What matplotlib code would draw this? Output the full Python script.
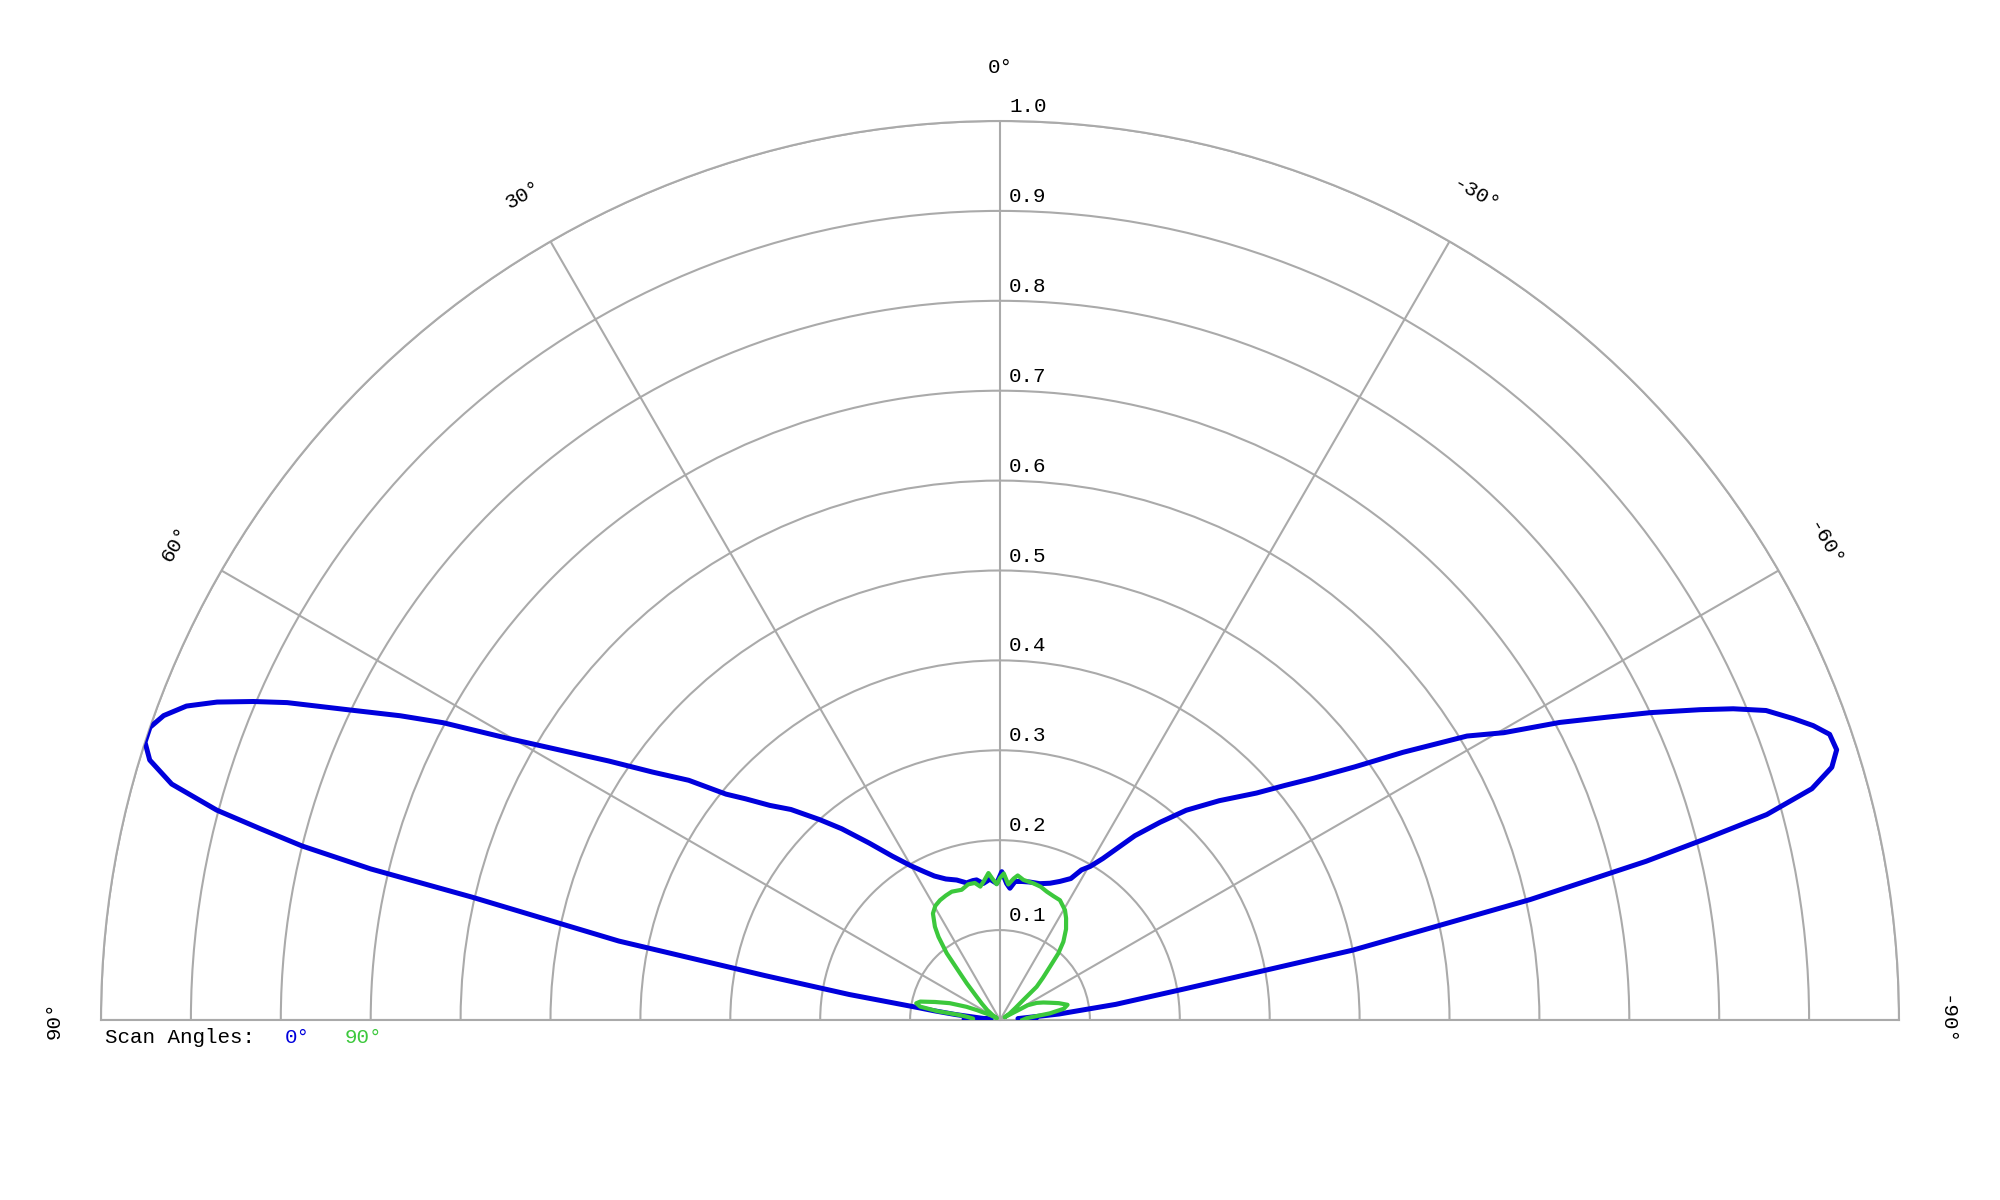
import numpy as np
import matplotlib
matplotlib.use('Agg')
import matplotlib.pyplot as plt

# ---- data (theta in degrees, positive to the left; r normalised) ----
blue_theta = [90, 88.5, 87, 85.5, 84.5, 83, 82, 81.4, 80.4, 79.3, 78.3, 76.9, 76.5, 76.0,
              75.5, 75.0, 74.1, 73.0, 72.0, 71.0, 70.0, 68.9, 67.9, 66.9, 66.0, 64.5, 63.1,
              61.9, 60.2, 58.5, 56.5, 54.5, 52.4, 50.5, 49.0, 47.0, 44.8, 42.0, 39.6, 36.5,
              33.3, 30.0, 27.0, 24.5, 21.0, 17.2, 13.7, 11.0, 9.5, 7.0, 4.1, 1.4, -0.7, -2.8,
              -4.3, -6.2, -9.0, -12.2, -16.3, -20.1, -23.4, -26.6, -28.5, -30.4, -32.5, -36.2,
              -39.0, -41.6, -45.0, -48.5, -50.5, -52.4, -54.5, -56.4, -58.7, -60.3, -62.0,
              -63.5, -64.7, -66.1, -67.0, -68.0, -69.2, -70.1, -71.0, -72.1, -73.1, -74.1,
              -75.0, -75.6, -76.2, -77.2, -78.8, -80.4, -82.3, -84.2, -85.5, -87, -88.5, -90]
blue_r = [0.03, 0.04, 0.03, 0.01, 0.02, 0.05, 0.075, 0.092, 0.17, 0.266, 0.433, 0.603, 0.72, 0.80,
          0.85, 0.902, 0.958, 0.989, 1.0, 1.0, 0.99, 0.97, 0.94, 0.903, 0.868, 0.801, 0.748,
          0.702, 0.63, 0.575, 0.522, 0.475, 0.437, 0.395, 0.375, 0.35, 0.33, 0.30, 0.276, 0.245,
          0.218, 0.198, 0.185, 0.176, 0.168, 0.163, 0.157, 0.158, 0.158, 0.153, 0.157, 0.152, 0.165, 0.152,
          0.147, 0.155, 0.156, 0.157, 0.158, 0.162, 0.168, 0.176, 0.19, 0.198, 0.213, 0.254,
          0.283, 0.312, 0.345, 0.381, 0.41, 0.441, 0.485, 0.538, 0.608, 0.645, 0.705,
          0.755, 0.80, 0.852, 0.886, 0.919, 0.944, 0.962, 0.976, 0.978, 0.967, 0.939,
          0.883, 0.81, 0.74, 0.605, 0.40, 0.21, 0.13, 0.066, 0.02, 0.03, 0.04, 0.03]

green_theta = [90, 87, 85, 83, 82, 80.5, 78.7, 77, 74.5, 71.5, 68.5, 66.8, 63, 60, 56, 52, 48,
               45, 42.2, 40.6, 38.6, 36.5, 34.9, 32.2, 29.5, 26.6, 23.5, 20.6, 16.4, 13.2, 10.4,
               8.4, 6.5, 4.5, 3.0, 1.4, 0.0, -1.5, -3.5, -5.5, -7.0, -9.5, -13.7, -17, -20,
               -23.5, -26.6, -30.6, -33, -36, -39, -41.2, -43.2, -45.5, -47.8, -49.4, -52, -56,
               -59, -62, -65, -68, -71, -74, -77.3, -80, -82.4, -84, -86, -90]
green_r = [0.03, 0.03, 0.035, 0.045, 0.07, 0.09, 0.095, 0.091, 0.075, 0.059, 0.04, 0.028, 0.012,
           0.004, 0.01, 0.018, 0.027, 0.037, 0.055, 0.068, 0.095, 0.115, 0.1265, 0.140, 0.146,
           0.149, 0.151, 0.1525, 0.151, 0.155, 0.155, 0.150, 0.156, 0.164, 0.157, 0.151, 0.158,
           0.163, 0.151, 0.158, 0.162, 0.158, 0.1565, 0.155, 0.152, 0.150, 0.149, 0.142, 0.135,
           0.125, 0.112, 0.0985, 0.081, 0.067, 0.055, 0.034, 0.022, 0.013, 0.006, 0.035, 0.045,
           0.052, 0.059, 0.068, 0.077, 0.072, 0.056, 0.04, 0.03, 0.025]

r_ticks = [0.1, 0.2, 0.3, 0.4, 0.5, 0.6, 0.7, 0.8, 0.9, 1.0]
theta_ticks = [90, 60, 30, 0, -30, -60, -90]
theta_labels = ['90°', '60°', '30°', '0°', '-30°', '-60°', '-90°']
legend_labels = ['0°', '90°']

BLUE = '#0000dc'
GREEN = '#3cc83c'
GRID = '#aaaaaa'
FONT = 'Liberation Mono'

W, H = 2000, 1200
CX, CY, R = 1000, 1020, 899          # centre and radius in pixels (top-down)
side = 2 * R                          # polar axes box is square; wedge is centred in it
wedge_mid = CY - R / 2
fig = plt.figure(figsize=(20, 12), dpi=100)
ax = fig.add_axes([(CX - R) / W, (H - (wedge_mid + side / 2)) / H, side / W, side / H],
                  projection='polar')
ax.set_theta_zero_location('N')
ax.set_theta_direction(1)
ax.set_thetamin(-90)
ax.set_thetamax(90)
ax.set_ylim(0, 1)
ax.set_rticks(r_ticks)
ax.set_yticklabels([])
ax.set_thetagrids(theta_ticks, labels=[''] * len(theta_ticks))
ax.grid(True, color=GRID, linewidth=1.5)
for s in ax.spines.values():
    s.set_color(GRID)
    s.set_linewidth(1.5)

ax.plot(np.deg2rad(blue_theta), blue_r, color=BLUE, linewidth=3.6, zorder=3)
ax.plot(np.deg2rad(green_theta), green_r, color=GREEN, linewidth=3.0, zorder=4)

for a, lab in zip(theta_ticks, theta_labels):
    rr = 1.052 if abs(a) == 90 else 1.06
    ax.text(np.deg2rad(a), rr, lab, rotation=a, rotation_mode='anchor',
            ha='center', va='center', family=FONT, fontsize=15, clip_on=False)

for r in r_ticks:
    ax.annotate(f'{r:.1f}', xy=(0, r), xytext=(9, 9), textcoords='offset pixels',
                ha='left', va='baseline', family=FONT, fontsize=15)

fig.text(105 / W, (H - 1043) / H, 'Scan Angles:', family=FONT, fontsize=15,
         ha='left', va='baseline', color='black')
fig.text(285 / W, (H - 1043) / H, legend_labels[0], family=FONT, fontsize=15,
         ha='left', va='baseline', color=BLUE)
fig.text(345 / W, (H - 1043) / H, legend_labels[1], family=FONT, fontsize=15,
         ha='left', va='baseline', color=GREEN)

fig.savefig('out.png', dpi=100, facecolor='white')
